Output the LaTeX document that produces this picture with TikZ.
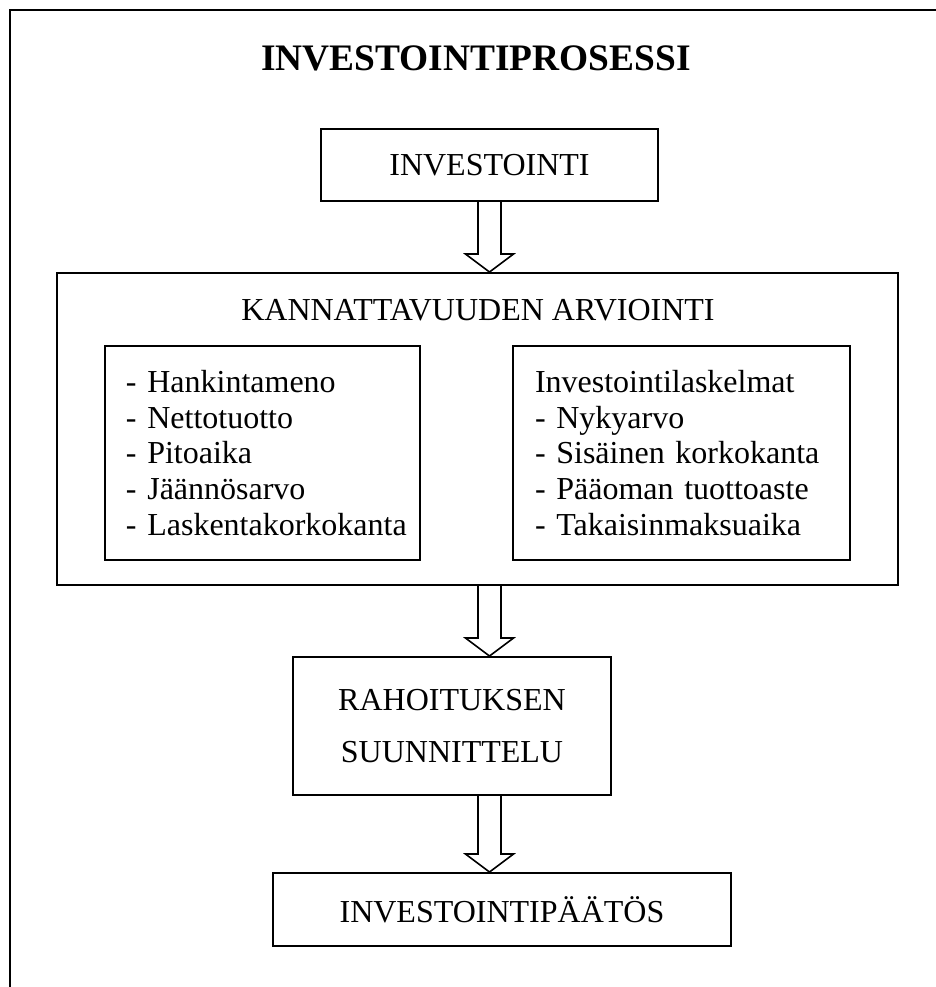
\documentclass[tikz,border=0pt]{standalone}
\usepackage{fontspec}
\setmainfont{Liberation Serif}
\usetikzlibrary{calc}
\usetikzlibrary{positioning}

% hollow block arrow from #1 down to #2
\newcommand{\hollowarrow}[2]{%
  \draw[arrowline] let \p1=(#1), \p2=(#2) in
    (\x1-5.75pt,\y1)--(\x1-5.75pt,\y2+9pt)--(\x1-12pt,\y2+9pt)--(\x2,\y2)
    --(\x1+12pt,\y2+9pt)--(\x1+5.75pt,\y2+9pt)--(\x1+5.75pt,\y1);}

\begin{document}
\begin{tikzpicture}[x=0.5pt,y=-0.5pt,
  every node/.style={font=\fontsize{16}{17.8}\selectfont},
  box/.style={draw,line width=1pt,rectangle,inner sep=0pt,align=center},
  listbox/.style={draw,line width=1pt,rectangle,inner ysep=0pt,align=left,minimum height=107pt},
  arrowline/.style={line width=0.8pt,line join=miter}]
  \useasboundingbox (0,0) rectangle (936,987);
  \draw[line width=1pt] (10,987)--(10,10)--(936,10);
  \coordinate (axis) at (489.5,0);
  \node (title) at (476,58)[font=\bfseries\fontsize{18.7}{20}\selectfont]{INVESTOINTIPROSESSI};
  \node (invest) at (489.5,165)[box,minimum width=168.5pt,minimum height=36pt]{INVESTOINTI};
  \node (kann) at (477.5,429)[box,minimum width=420.5pt,minimum height=156pt]{};
  \node (kanntitle) at (478,310){KANNATTAVUUDEN ARVIOINTI};
  \node (tekijat) at (262.5,453)[listbox,inner xsep=10.5pt,text width=136.5pt]{- Hankintameno\\- Nettotuotto\\- Pitoaika\\- Jäännösarvo\\\mbox{- Laskentakorkokanta}};
  \node (laskelmat) at (681.5,453)[listbox,inner xsep=11pt,text width=146.5pt]{Investointilaskelmat\\- Nykyarvo\\- Sisäinen korkokanta\\- Pääoman tuottoaste\\- Takaisinmaksuaika};
  \node (rah) at (452,726)[box,minimum width=159pt,minimum height=69pt,font=\fontsize{16}{26}\selectfont]{RAHOITUKSEN\\SUUNNITTELU};
  \node (paat) at (502,909.5)[box,minimum width=229pt,minimum height=36.5pt]{INVESTOINTIPÄÄTÖS};
  \hollowarrow{invest.south -| axis}{kann.north -| axis}
  \hollowarrow{kann.south -| axis}{rah.north -| axis}
  \hollowarrow{rah.south -| axis}{paat.north -| axis}
\end{tikzpicture}
\end{document}
